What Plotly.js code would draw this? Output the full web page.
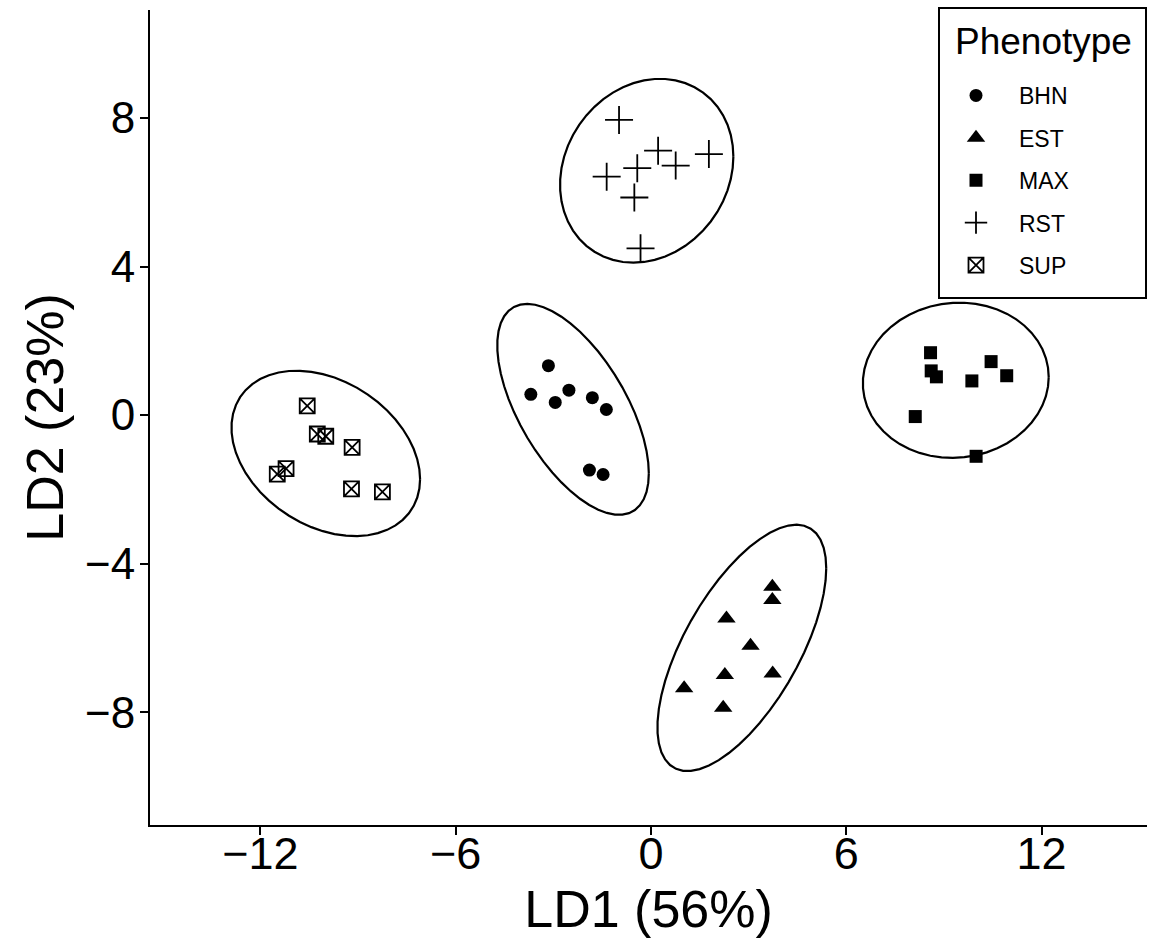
<!DOCTYPE html>
<html>
<head>
<meta charset="utf-8">
<script src="https://cdn.plot.ly/plotly-3.0.1.min.js"></script>
<style>html,body{margin:0;padding:0;background:#fff;}#chart{width:1158px;height:939px;}</style>
</head>
<body>
<div id="chart"></div>
<script>
// Phenotype groups
const phenotypes = ["BHN", "EST", "MAX", "RST", "SUP"];
const symbols = ["circle", "triangle-up", "square", "cross-thin-open", "square-x-open"];

// LD scores
const bhnLD1 = [-3.15, -3.69, -2.52, -2.94, -1.80, -1.37, -1.89, -1.47];
const bhnLD2 = [1.33, 0.56, 0.67, 0.34, 0.47, 0.15, -1.48, -1.60];

const estLD1 = [3.73, 3.73, 2.32, 3.06, 2.27, 3.74, 1.02, 2.22];
const estLD2 = [-4.62, -4.98, -5.48, -6.21, -7.00, -6.96, -7.36, -7.88];

const maxLD1 = [8.59, 8.61, 8.77, 9.86, 10.45, 10.93, 8.12, 9.99];
const maxLD2 = [1.68, 1.19, 1.03, 0.92, 1.44, 1.06, -0.04, -1.11];

const rstLD1 = [-0.98, 0.22, 1.78, 0.76, -0.42, -1.36, -0.51, -0.32];
const rstLD2 = [7.95, 7.12, 7.03, 6.72, 6.65, 6.42, 5.86, 4.49];

const supLD1 = [-10.56, -10.25, -9.99, -9.18, -11.21, -11.48, -9.20, -8.25];
const supLD2 = [0.25, -0.51, -0.57, -0.87, -1.44, -1.59, -1.99, -2.07];

const xTicks = [-12, -6, 0, 6, 12];
const yTicks = [-8, -4, 0, 4, 8];

const groupsX = [bhnLD1, estLD1, maxLD1, rstLD1, supLD1];
const groupsY = [bhnLD2, estLD2, maxLD2, rstLD2, supLD2];

// Robust multivariate t estimate (as MASS::cov.trob, used by ggplot2 stat_ellipse type "t")
function covTrob(xs, ys) {
  const nu = 5, p = 2, maxit = 25, tol = 0.01, n = xs.length;
  let w = new Array(n).fill(1);
  let lx = xs.reduce((a, b) => a + b, 0) / n;
  let ly = ys.reduce((a, b) => a + b, 0) / n;
  let dx = [], dy = [];
  for (let it = 0; it < maxit; it++) {
    const w0 = w.slice();
    dx = xs.map(v => v - lx);
    dy = ys.map(v => v - ly);
    const sw = w.reduce((a, b) => a + b, 0);
    let a = 0, b = 0, c = 0;
    for (let i = 0; i < n; i++) {
      a += w[i] / sw * dx[i] * dx[i];
      b += w[i] / sw * dx[i] * dy[i];
      c += w[i] / sw * dy[i] * dy[i];
    }
    const det = a * c - b * b;
    w = dx.map((_, i) => {
      const q = (c * dx[i] * dx[i] - 2 * b * dx[i] * dy[i] + a * dy[i] * dy[i]) / det;
      return (nu + p) / (nu + q);
    });
    const sw2 = w.reduce((s, v) => s + v, 0);
    lx = xs.reduce((s, v, i) => s + w[i] * v, 0) / sw2;
    ly = ys.reduce((s, v, i) => s + w[i] * v, 0) / sw2;
    if (w.every((v, i) => Math.abs(v - w0[i]) < tol)) break;
  }
  let a = 0, b = 0, c = 0;
  for (let i = 0; i < n; i++) {
    a += w[i] * dx[i] * dx[i];
    b += w[i] * dx[i] * dy[i];
    c += w[i] * dy[i] * dy[i];
  }
  return { cx: lx, cy: ly, a: a / n, b: b / n, c: c / n };
}

function ellipse(xs, ys, level) {
  const est = covTrob(xs, ys);
  const d2 = xs.length - 1;
  const fq = (d2 / 2) * (Math.pow(1 - level, -2 / d2) - 1); // qf(level, 2, d2)
  const r = Math.sqrt(2 * fq);
  const R11 = Math.sqrt(est.a), R12 = est.b / R11, R22 = Math.sqrt(est.c - R12 * R12);
  const ex = [], ey = [];
  const segs = 51;
  for (let k = 0; k <= segs; k++) {
    const t = 2 * Math.PI * k / segs;
    const u1 = Math.cos(t), u2 = Math.sin(t);
    ex.push(est.cx + r * u1 * R11);
    ey.push(est.cy + r * (u1 * R12 + u2 * R22));
  }
  return { ex, ey };
}

const traces = [];
phenotypes.forEach((ph, i) => {
  const el = ellipse(groupsX[i], groupsY[i], 0.95);
  traces.push({
    x: el.ex, y: el.ey, type: "scatter", mode: "lines",
    line: { color: "#000", width: 2.2 }, showlegend: false, hoverinfo: "skip"
  });
});
phenotypes.forEach((ph, i) => {
  const open = symbols[i].indexOf("open") >= 0;
  const size = [13, 16, 13, 20, 15][i];
  traces.push({
    x: groupsX[i], y: groupsY[i], type: "scatter", mode: "markers", name: ph,
    legendgroup: ph,
    marker: {
      symbol: symbols[i], size: size, color: "#000",
      line: { color: "#000", width: open ? 1.8 : 0 }
    }
  });
});

const fontFam = "Liberation Sans, Arial, Helvetica, sans-serif";
const layout = {
  width: 1158, height: 939,
  paper_bgcolor: "#fff", plot_bgcolor: "#fff",
  margin: { l: 150, r: 11, t: 10, b: 114 },
  font: { family: fontFam, color: "#000" },
  xaxis: {
    range: [-15.39, 15.24], tickvals: xTicks, showgrid: false, zeroline: false,
    showline: true, linecolor: "#000", linewidth: 2,
    ticks: "outside", ticklen: 8, tickwidth: 2, tickcolor: "#000",
    tickfont: { size: 45, color: "#000" }, ticklabelstandoff: -20,
    title: { text: "LD1 (56%)", font: { size: 52, color: "#000" }, standoff: 13 }
  },
  yaxis: {
    range: [-11.04, 10.91], tickvals: yTicks, showgrid: false, zeroline: false,
    showline: true, linecolor: "#000", linewidth: 2,
    ticks: "outside", ticklen: 8, tickwidth: 2, tickcolor: "#000",
    tickfont: { size: 44, color: "#000" }, ticklabelstandoff: -4,
    title: { text: "LD2 (23%)", font: { size: 52, color: "#000" }, standoff: 5 }
  },
  showlegend: true,
  legend: {
    x: (933 - 150) / 997, xanchor: "left", y: 1 - (74 - 10) / 815, yanchor: "top",
    borderwidth: 0, bgcolor: "rgba(0,0,0,0)",
    font: { size: 23, color: "#000" },
    itemsizing: "trace", itemwidth: 76, tracegroupgap: 9.5
  },
  shapes: [{
    type: "rect", xref: "paper", yref: "paper",
    x0: (939 - 150) / 997, x1: (1146 - 150) / 997,
    y0: 1 - (298 - 10) / 815, y1: 1 - (8 - 10) / 815,
    line: { color: "#000", width: 2 }, fillcolor: "rgba(0,0,0,0)", layer: "above"
  }],
  annotations: [{
    text: "Phenotype", xref: "paper", yref: "paper",
    x: (1043 - 150) / 997, y: 1 - (41 - 10) / 815, xanchor: "center", yanchor: "middle",
    showarrow: false, font: { size: 37, color: "#000" }
  }]
};

Plotly.newPlot("chart", traces, layout, { displayModeBar: false, staticPlot: true });
</script>
</body>
</html>
